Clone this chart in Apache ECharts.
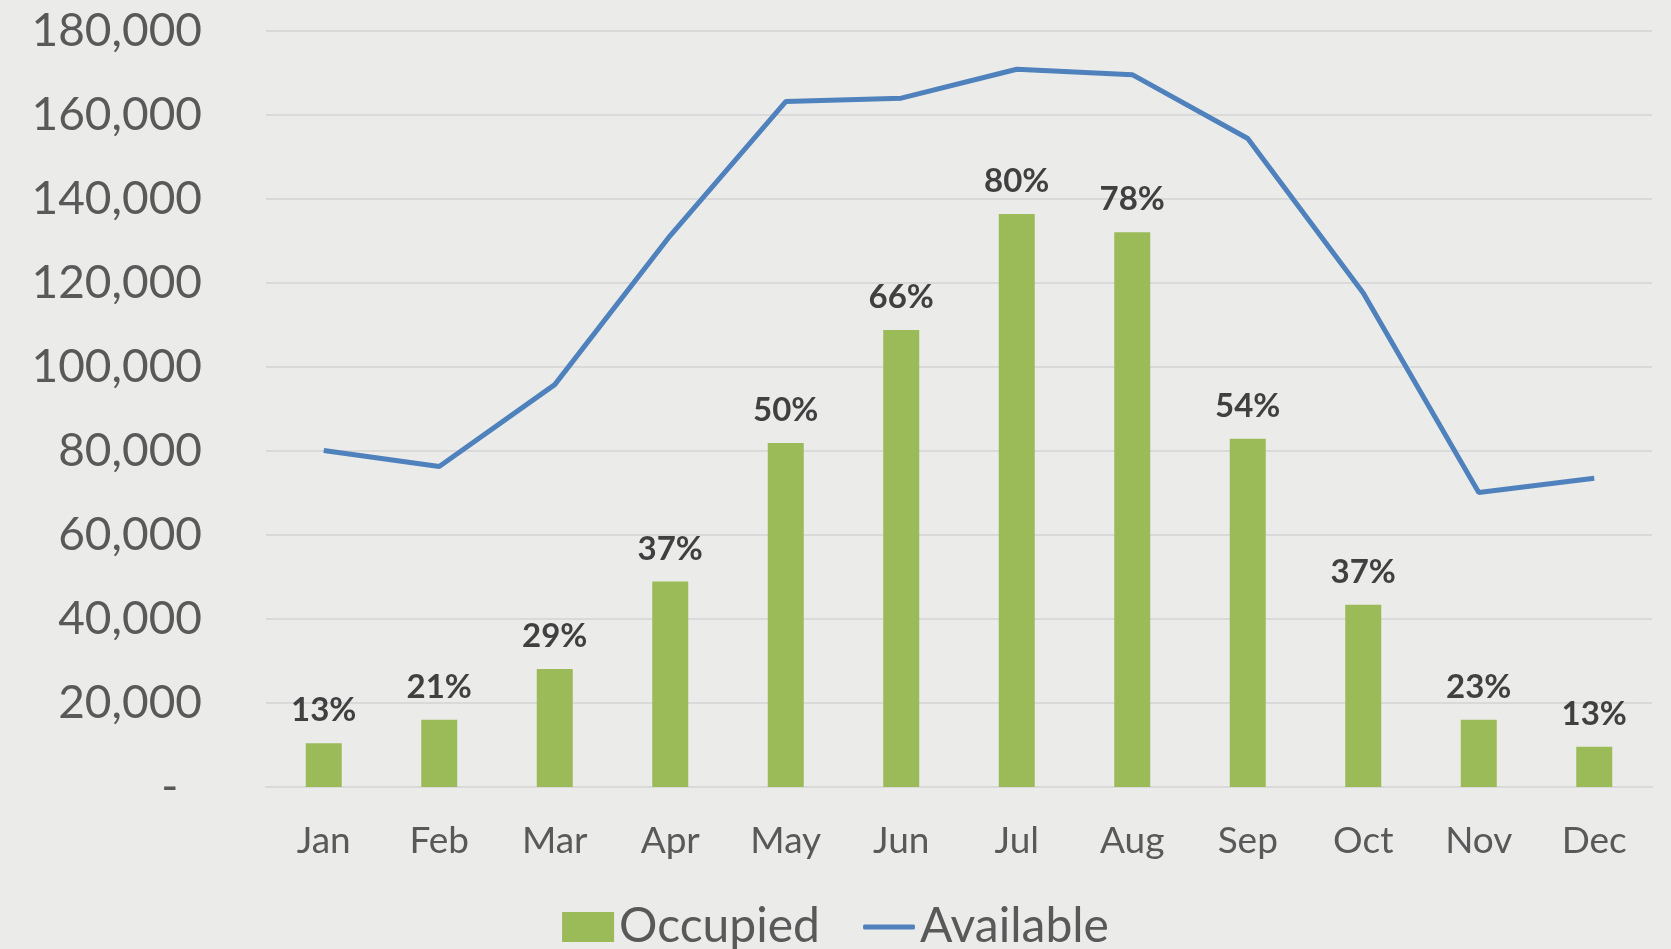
<!DOCTYPE html>
<html>
<head>
<meta charset="utf-8">
<script src="https://cdn.jsdelivr.net/npm/echarts@6/dist/echarts.min.js"></script>
<style>
  html, body { margin: 0; padding: 0; background: #ebebe9; }
  #chart { width: 1671px; height: 949px; }
</style>
</head>
<body>
<div id="chart"></div>
<script>
const months = ["Jan", "Feb", "Mar", "Apr", "May", "Jun", "Jul", "Aug", "Sep", "Oct", "Nov", "Dec"];
const occupied = [10400, 16000, 28100, 48900, 81900, 108800, 136400, 132100, 82900, 43400, 16000, 9600];
const available = [80100, 76300, 95800, 131300, 163200, 164000, 170900, 169600, 154400, 117600, 70100, 73500];

document.addEventListener("DOMContentLoaded", function () {
  const chart = echarts.init(document.getElementById("chart"));
  const font = "Lato";
  const option = {
    backgroundColor: "#ebebe9",
    animation: false,
    grid: { left: 266, right: 19, top: 31, bottom: 162 },
    legend: {
      top: 898,
      left: "center",
      itemGap: 43,
      itemWidth: 52,
      itemHeight: 30,
      symbolKeepAspect: true,
      textStyle: { fontFamily: font, fontSize: 48, color: "#595959" },
      data: [
        { name: "Occupied", icon: "rect" },
        // thin bar so the legend shows a plain line, no marker
        { name: "Available", icon: "path://M2,0 L98,0 Q100,0 100,5 Q100,10 98,10 L2,10 Q0,10 0,5 Q0,0 2,0 Z" }
      ]
    },
    xAxis: {
      type: "category",
      data: months,
      axisLine: { lineStyle: { color: "#d9d9d9", width: 2 } },
      axisTick: { show: false },
      axisLabel: { fontFamily: font, fontSize: 37, color: "#595959", margin: 36 }
    },
    yAxis: {
      type: "value",
      min: 0,
      max: 180000,
      interval: 20000,
      axisLine: { show: false },
      axisTick: { show: false },
      splitLine: { lineStyle: { color: "#d9d9d9", width: 2 } },
      axisLabel: {
        fontFamily: font, fontSize: 46, color: "#595959", margin: 64,
        formatter: function (v) { return v === 0 ? "-  " : v.toLocaleString("en-US"); }
      }
    },
    series: [
      {
        name: "Occupied",
        type: "bar",
        data: occupied,
        barWidth: 36,
        itemStyle: { color: "#9bbb59" },
        label: {
          show: true,
          position: "top",
          distance: 16,
          fontFamily: font,
          fontSize: 33,
          fontWeight: "bold",
          color: "#404040",
          formatter: function (p) {
            return Math.round(p.value / available[p.dataIndex] * 100) + "%";
          }
        }
      },
      {
        name: "Available",
        type: "line",
        data: available,
        symbol: "none",
        lineStyle: { color: "#4f81bd", width: 5 },
        itemStyle: { color: "#4f81bd" }
      }
    ]
  };
  chart.setOption(option);
  window.addEventListener("resize", function () {
    chart.resize();
  });
});
</script>
</body>
</html>
